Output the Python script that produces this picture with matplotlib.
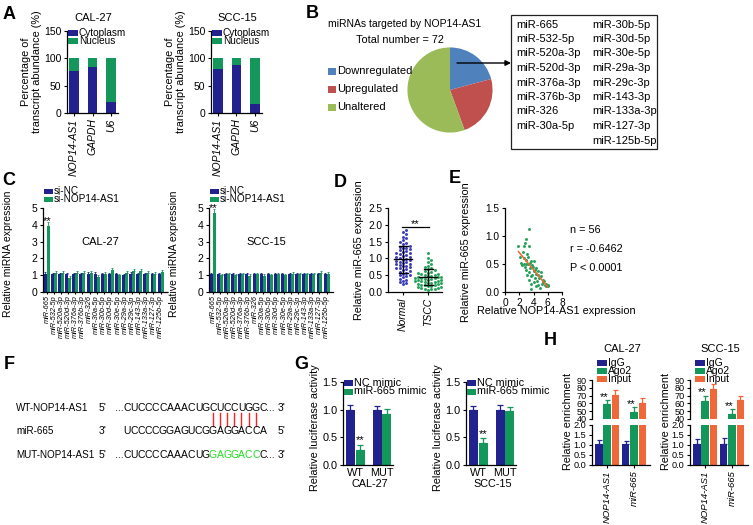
import numpy as np
import matplotlib
matplotlib.use('Agg')
import matplotlib.pyplot as plt
from matplotlib.patches import Rectangle

plt.rcParams['font.family'] = ['Liberation Sans', 'DejaVu Sans']
plt.rcParams['axes.linewidth'] = 0.9
plt.rcParams['xtick.major.width'] = 0.8
plt.rcParams['ytick.major.width'] = 0.8
plt.rcParams['xtick.major.size'] = 2.5
plt.rcParams['ytick.major.size'] = 2.5
plt.rcParams['xtick.major.pad'] = 1.5
plt.rcParams['ytick.major.pad'] = 1.5

NAVY = '#22228f'
GREEN = '#13975a'
ORANGE = '#f0683a'

# ---- data ----
# A: subcellular fractionation
frac_genes = ['NOP14-AS1', 'GAPDH', 'U6']
cyto_cal = [76, 85, 21]
cyto_scc = [80, 88, 17]

# B: pie + list of downregulated miRNAs
pie_labels = ['Downregulated', 'Upregulated', 'Unaltered']
pie_counts = [15, 17, 40]
pie_colors = ['#4f81bd', '#c0504d', '#9bbb59']
down_col1 = ['miR-665', 'miR-532-5p', 'miR-520a-3p', 'miR-520d-3p',
             'miR-376a-3p', 'miR-376b-3p', 'miR-326', 'miR-30a-5p']
down_col2 = ['miR-30b-5p', 'miR-30d-5p', 'miR-30e-5p', 'miR-29a-3p',
             'miR-29c-3p', 'miR-143-3p', 'miR-133a-3p', 'miR-127-3p', 'miR-125b-5p']

# C: qPCR after knockdown
mirnas = down_col1 + down_col2
c_cal_nc = [1.1, 1.05, 1.05, 1.05, 1.05, 1.05, 1.1, 1.1, 1.05, 1.05, 1.05, 1.0, 1.1, 1.05, 1.05, 1.05, 1.05]
c_cal_si = [3.9, 1.15, 1.15, 0.85, 1.15, 1.15, 1.15, 0.9, 1.1, 1.3, 1.0, 1.15, 1.25, 1.25, 1.15, 1.1, 1.2]
c_scc_nc = [1.05, 1.05, 1.05, 1.05, 1.05, 1.05, 1.05, 1.05, 1.05, 1.05, 1.05, 1.05, 1.05, 1.05, 1.05, 1.05, 1.05]
c_scc_si = [4.7, 1.0, 1.05, 1.0, 1.05, 0.95, 1.05, 0.95, 1.0, 1.05, 1.0, 1.1, 1.05, 1.05, 1.05, 1.15, 1.1]
c_err_nc = 0.1
c_err_si = [0.25, 0.1, 0.1, 0.1, 0.1, 0.1, 0.1, 0.1, 0.1, 0.1, 0.1, 0.1, 0.1, 0.1, 0.1, 0.1, 0.1]
c_err_si_scc = [0.25, 0.1, 0.1, 0.1, 0.1, 0.1, 0.1, 0.1, 0.1, 0.1, 0.1, 0.1, 0.1, 0.1, 0.1, 0.1, 0.1]

# D: tissue expression
d_groups = ['Normal', 'TSCC']
d_normal = [1.85, 1.78, 1.72, 1.65, 1.60, 1.55, 1.50, 1.46,
            1.42, 1.38, 1.35, 1.32, 1.30, 1.27, 1.24, 1.22,
            1.20, 1.17, 1.15, 1.12, 1.10, 1.08, 1.05, 1.03,
            1.00, 0.98, 0.96, 0.94, 0.92, 0.90, 0.88, 0.86,
            0.84, 0.82, 0.80, 0.78, 0.76, 0.74, 0.72, 0.70,
            0.68, 0.66, 0.63, 0.60, 0.58, 0.55, 0.52, 0.50,
            0.47, 0.44, 0.40, 0.37, 0.34, 0.30, 0.27, 0.24]
d_tscc = [1.15, 1.02, 0.95, 0.88, 0.82, 0.78, 0.74, 0.71,
          0.68, 0.65, 0.62, 0.60, 0.58, 0.56, 0.54, 0.53,
          0.51, 0.50, 0.49, 0.48, 0.47, 0.46, 0.45, 0.44,
          0.43, 0.42, 0.41, 0.40, 0.39, 0.38, 0.37, 0.36,
          0.35, 0.34, 0.33, 0.32, 0.31, 0.30, 0.28, 0.27,
          0.26, 0.25, 0.24, 0.22, 0.21, 0.20, 0.18, 0.17,
          0.15, 0.14, 0.12, 0.11, 0.10, 0.09, 0.08, 0.06]
d_mean = [0.98, 0.45]
d_sd = [0.40, 0.24]

# E: correlation
e_x = [3.3, 3.0, 1.8, 2.6, 3.4, 3.1, 2.1, 2.5,
       2.9, 2.2, 2.7, 3.2, 3.6, 2.4, 2.8, 3.5,
       3.0, 2.6, 3.3, 3.8, 4.0, 3.1, 2.9, 3.6,
       4.2, 3.4, 4.4, 3.7, 4.6, 4.1, 3.9, 4.8,
       4.3, 5.0, 4.5, 5.2, 3.2, 3.5, 4.7, 5.4,
       4.0, 5.1, 5.6, 4.9, 3.8, 5.3, 5.8, 4.4,
       6.0, 3.6, 4.2, 5.5, 2.8, 4.6, 5.7, 6.1]
e_y = [1.12, 0.95, 0.82, 0.82, 0.83, 0.68, 0.63, 0.72,
       0.58, 0.52, 0.60, 0.50, 0.55, 0.48, 0.45, 0.42,
       0.40, 0.50, 0.35, 0.48, 0.38, 0.30, 0.50, 0.28,
       0.40, 0.22, 0.33, 0.15, 0.30, 0.18, 0.45, 0.25,
       0.10, 0.35, 0.20, 0.15, 0.62, 0.52, 0.12, 0.18,
       0.55, 0.28, 0.12, 0.08, 0.30, 0.22, 0.10, 0.42,
       0.12, 0.05, 0.25, 0.20, 0.88, 0.38, 0.15, 0.10]
e_fit_x = [1.9, 6.0]
e_fit_y = [0.72, 0.09]
e_stats = ['n = 56', 'r = -0.6462', 'P < 0.0001']

# F: binding sites
wt_seq = 'CUCCCCAAACUGCUCCUGGC'
mir_seq = 'UCCCCGGAGUCGGAGGACCA'
mut_head, mut_site, mut_tail = 'CUCCCCAAACUG', 'GAGGACC', 'C'
pair_idx = [12, 13, 14, 15, 16, 17, 18]

# G: luciferase
g_groups = ['WT', 'MUT']
g_cal_nc, g_cal_nc_err = [1.0, 1.0], [0.08, 0.07]
g_cal_mi, g_cal_mi_err = [0.28, 0.93], [0.09, 0.08]
g_scc_nc, g_scc_nc_err = [1.0, 1.0], [0.07, 0.09]
g_scc_mi, g_scc_mi_err = [0.40, 0.97], [0.08, 0.07]

# H: RIP
h_genes = ['NOP14-AS1', 'miR-665']
h_cal = {'IgG': ([1.03, 1.03], [0.22, 0.17]),
         'Ago2': ([59, 49], [5.5, 6]),
         'Input': ([71, 61], [6, 5.5])}
h_scc = {'IgG': ([1.03, 1.03], [0.25, 0.3]),
         'Ago2': ([63.5, 47], [6.5, 5.5]),
         'Input': ([78.5, 64.5], [6.5, 5])}

# ---- figure ----
W, H = 753, 525
fig = plt.figure(figsize=(W / 100, H / 100), dpi=100)


def px_axes(x0, y0, x1, y1):
    return fig.add_axes([x0 / W, 1 - y1 / H, (x1 - x0) / W, (y1 - y0) / H])


ov = fig.add_axes([0, 0, 1, 1], zorder=10)
ov.set_xlim(0, W)
ov.set_ylim(H, 0)
ov.axis('off')
ov.patch.set_alpha(0)


def style(ax, fs=7):
    for s in ('top', 'right'):
        ax.spines[s].set_visible(False)
    ax.tick_params(labelsize=fs)


def legend_px(x, y, labels, colors, dy, fs=6.5, sw=9, sh=6):
    for i, (lab, col) in enumerate(zip(labels, colors)):
        yy = y + i * dy
        ov.add_patch(Rectangle((x, yy - sh / 2), sw, sh, color=col, lw=0))
        ov.text(x + sw + 1, yy, lab, fontsize=fs, va='center', ha='left')


def ylab(ax, text, x, y, fs=7):
    ax.set_ylabel(text, fontsize=fs, linespacing=1.1)
    ax.yaxis.set_label_coords(x, y, transform=ov.transData)


for letter, (lx, ly) in zip('ABCDEFGH', [(3, 6), (306, 5), (2, 172), (334, 174),
                                         (449, 170), (4, 356), (294, 356), (544, 332)]):
    ov.text(lx, ly, letter, fontsize=13, fontweight='bold', va='top', ha='left')

# ---- A ----
for (x0, title, cyto) in [(67, 'CAL-27', cyto_cal), (211, 'SCC-15', cyto_scc)]:
    ax = px_axes(x0, 31, x0 + 51, 113)
    style(ax, 7.5)
    xs = np.arange(len(frac_genes))
    nuc = [100 - c for c in cyto]
    ax.bar(xs, cyto, width=0.54, color=NAVY)
    ax.bar(xs, nuc, bottom=cyto, width=0.54, color=GREEN)
    ax.set_xlim(-0.38, 2.38)
    ax.set_ylim(0, 150)
    ax.set_yticks([0, 50, 100, 150])
    ax.set_xticks(xs)
    ax.set_xticklabels(frac_genes, rotation=90, style='italic', fontsize=7.5)
    ylab(ax, 'Percentage of\ntranscript abundance (%)', x0 - 25, 72, fs=7.8)
    ov.text(x0 + 26, 18, title, fontsize=8, ha='center', va='center')
    legend_px(x0 + 1, 33, ['Cytoplasm', 'Nucleus'], [NAVY, GREEN], 8, fs=7.2, sw=10, sh=6)

# ---- B ----
ov.text(405, 24, 'miRNAs targeted by NOP14-AS1', fontsize=7.5, ha='center', va='center')
ov.text(400, 40, 'Total number = 72', fontsize=7.8, ha='center', va='center')
axp = px_axes(407, 47, 493, 133)
axp.pie(pie_counts, colors=pie_colors, startangle=90, counterclock=False,
        wedgeprops=dict(linewidth=0))
axp.set_xlim(-1.01, 1.01)
axp.set_ylim(-1.01, 1.01)
legend_px(328, 71, pie_labels, pie_colors, 18, fs=8, sw=8, sh=7)
ov.annotate('', xy=(511, 63), xytext=(457, 63),
            arrowprops=dict(arrowstyle='-|>', color='black', lw=1, mutation_scale=8,
                            shrinkA=0, shrinkB=0))
ov.add_patch(Rectangle((511, 15), 146, 134, fill=False, lw=0.9, ec='#222222'))
for i, m in enumerate(down_col1):
    ov.text(516, 24.5 + i * 14.5, m, fontsize=8, va='center', ha='left')
for i, m in enumerate(down_col2):
    ov.text(592, 24.5 + i * 14.5, m, fontsize=8, va='center', ha='left')

# ---- C ----
for (x0, title, nc, si, err_si, star_y) in [(43, 'CAL-27', c_cal_nc, c_cal_si, c_err_si, 4.25),
                                           (209, 'SCC-15', c_scc_nc, c_scc_si, c_err_si_scc, 5.0)]:
    ax = px_axes(x0, 208, x0 + 124, 292)
    style(ax, 7.5)
    xs = np.arange(len(mirnas))
    w = 0.42
    ax.bar(xs - w / 2, nc, width=w, color=NAVY,
           yerr=[np.zeros(len(nc)), np.full(len(nc), c_err_nc)],
           error_kw=dict(ecolor=NAVY, elinewidth=0.6, capsize=0.8, capthick=0.6))
    ax.bar(xs + w / 2, si, width=w, color=GREEN,
           yerr=[np.zeros(len(si)), err_si],
           error_kw=dict(ecolor=GREEN, elinewidth=0.6, capsize=0.8, capthick=0.6))
    ax.set_xlim(-0.55, 16.9)
    ax.set_ylim(0, 5)
    ax.set_yticks([0, 1, 2, 3, 4, 5])
    ax.set_xticks(xs)
    ax.set_xticklabels(mirnas, rotation=90, style='italic', fontsize=5.3)
    ax.tick_params(axis='x', length=1.5, pad=1)
    ax.text(0.1, star_y, '**', fontsize=8, ha='center', va='center')
    ylab(ax, 'Relative miRNA expression', x0 - 30, 254, fs=7.5)
    ov.text(x0 + 57, 242, title, fontsize=8, ha='center', va='center')
    legend_px(x0 + 1, 191, ['si-NC', 'si-NOP14-AS1'], [NAVY, GREEN], 8.2, fs=7.2, sw=9, sh=5)

# ---- D ----


def swarm(vals, px_x, px_y, d):
    vals = np.asarray(vals)
    offs = np.zeros(len(vals))
    placed = []
    for i in np.argsort(vals):
        y = vals[i] * px_y
        k = 0
        while True:
            found = False
            for sgn in ((0,) if k == 0 else (1, -1)):
                x = sgn * k * d * 0.5
                if all((x - qx) ** 2 + (y - qy) ** 2 >= d * d for qx, qy in placed):
                    found = True
                    break
            if found:
                break
            k += 1
        placed.append((x, y))
        offs[i] = x / px_x
    return offs


axd = px_axes(388, 208, 442, 292)
style(axd, 7.3)
for gi, (vals, col) in enumerate([(d_normal, '#3b3bb8'), (d_tscc, '#23a35a')]):
    offs = swarm(vals, 25, 33.6, 3.3)
    axd.scatter(gi + offs, vals, s=4.5, color=col, lw=0, zorder=2)
    m, sd = d_mean[gi], d_sd[gi]
    axd.plot([gi - 0.36, gi + 0.36], [m, m], color='black', lw=1, zorder=3)
    axd.plot([gi, gi], [m - sd, m + sd], color='black', lw=1, zorder=3)
    axd.plot([gi - 0.18, gi + 0.18], [m - sd, m - sd], color='black', lw=1, zorder=3)
    axd.plot([gi - 0.18, gi + 0.18], [m + sd, m + sd], color='black', lw=1, zorder=3)
axd.plot([-0.05, 1.05], [1.93, 1.93], color='black', lw=0.9)
axd.text(0.5, 2.03, '**', fontsize=8, ha='center', va='center')
axd.set_xlim(-0.6, 1.56)
axd.set_ylim(0, 2.5)
axd.set_yticks([0, 0.5, 1.0, 1.5, 2.0, 2.5])
axd.set_yticklabels(['0.0', '0.5', '1.0', '1.5', '2.0', '2.5'])
axd.set_xticks([0, 1])
axd.set_xticklabels(d_groups, rotation=90, style='italic', fontsize=7.5)
ylab(axd, 'Relative miR-665 expression', 364, 250, fs=7.8)

# ---- E ----
axe = px_axes(505, 208, 562, 292)
style(axe, 7.3)
axe.scatter(e_x, e_y, s=4.5, color='#23a35a', lw=0, zorder=2)
axe.plot(e_fit_x, e_fit_y, color='#f26531', lw=1.1, zorder=3)
axe.set_xlim(0, 8)
axe.set_ylim(0, 1.5)
axe.set_xticks([0, 2, 4, 6, 8])
axe.set_yticks([0, 0.5, 1.0, 1.5])
axe.set_yticklabels(['0.0', '0.5', '1.0', '1.5'])
ylab(axe, 'Relative miR-665 expression', 471, 252, fs=7.8)
axe.set_xlabel('Relative NOP14-AS1 expression', fontsize=7.8)
axe.xaxis.set_label_coords(556, 306, transform=ov.transData)
for i, s in enumerate(e_stats):
    ov.text(570, 230 + i * 19, s, fontsize=7.8, va='center', ha='left')

# ---- F ----
fs_f = 7.5
pitch = 7.15
x_seq = 123.5
rows = [408, 431, 455]
for y, lab in zip(rows, ['WT-NOP14-AS1', 'miR-665', 'MUT-NOP14-AS1']):
    ov.text(16, y, lab, fontsize=7.1, va='center', ha='left')
for y, end5, end3 in zip(rows, ["5'", "3'", "5'"], ["3'", "5'", "3'"]):
    ov.text(99, y, end5, fontsize=fs_f, va='center', ha='left')
    ov.text(278, y, end3, fontsize=fs_f, va='center', ha='left')


def seq_text(seq, start_i, y, color='black'):
    for i, ch in enumerate(seq):
        ov.text(x_seq + (start_i + i + 0.5) * pitch, y, ch, fontsize=fs_f,
                ha='center', va='center', color=color)


ov.text(x_seq + 0.5, rows[0], '...', fontsize=fs_f, ha='right', va='center')
seq_text(wt_seq, 0, rows[0])
ov.text(x_seq + len(wt_seq) * pitch, rows[0], '...', fontsize=fs_f, ha='left', va='center')
seq_text(mir_seq, 0, rows[1])
ov.text(x_seq + 0.5, rows[2], '...', fontsize=fs_f, ha='right', va='center')
seq_text(mut_head, 0, rows[2])
seq_text(mut_site, len(mut_head), rows[2], color='#22dd22')
seq_text(mut_tail, len(mut_head) + len(mut_site), rows[2])
ov.text(x_seq + len(wt_seq) * pitch, rows[2], '...', fontsize=fs_f, ha='left', va='center')
for i in pair_idx:
    xx = x_seq + (i + 0.5) * pitch
    ov.plot([xx, xx], [412.5, 425.5], color='#ff2222', lw=1)

# ---- G ----
for (x0, title, nc, nce, mi, mie) in [(343, 'CAL-27', g_cal_nc, g_cal_nc_err, g_cal_mi, g_cal_mi_err),
                                     (466, 'SCC-15', g_scc_nc, g_scc_nc_err, g_scc_mi, g_scc_mi_err)]:
    ax = px_axes(x0, 382, x0 + 50, 465)
    style(ax, 7.8)
    xs = np.arange(len(g_groups))
    w = 0.33
    ek = dict(elinewidth=0.9, capsize=2, capthick=0.9)
    ax.bar(xs - 0.18, nc, width=w, color=NAVY, yerr=[[0, 0], nce], error_kw=dict(ecolor=NAVY, **ek))
    ax.bar(xs + 0.18, mi, width=w, color=GREEN, yerr=[[0, 0], mie], error_kw=dict(ecolor=GREEN, **ek))
    ax.text(0.18, mi[0] + mie[0] + 0.08, '**', fontsize=8, ha='center', va='center')
    ax.set_xlim(-0.46, 1.41)
    ax.set_ylim(0, 1.5)
    ax.set_yticks([0, 0.5, 1.0, 1.5])
    ax.set_yticklabels(['0.0', '0.5', '1.0', '1.5'])
    ax.set_xticks(xs)
    ax.set_xticklabels(g_groups, fontsize=7.8)
    ax.tick_params(axis='x', length=0, pad=2)
    ylab(ax, 'Relative luciferase activity', x0 - 23, 428, fs=7.8)
    ax.set_xlabel(title, fontsize=7.8)
    ax.xaxis.set_label_coords(x0 + 27, 479, transform=ov.transData)
    legend_px(x0 + 1, 383, ['NC mimic', 'miR-665 mimic'], [NAVY, GREEN], 8.5, fs=7.8, sw=9, sh=6)

# ---- H ----
h_colors = {'IgG': NAVY, 'Ago2': GREEN, 'Input': ORANGE}
for (x0, title, dat) in [(592, 'CAL-27', h_cal), (690, 'SCC-15', h_scc)]:
    axt = px_axes(x0, 380, x0 + 58, 419)
    axb = px_axes(x0, 425, x0 + 58, 465)
    xs = np.arange(len(h_genes))
    w = 0.28
    for ax in (axt, axb):
        style(ax, 6.6)
        for j, key in enumerate(['IgG', 'Ago2', 'Input']):
            vals, errs = dat[key]
            ax.bar(xs + (j - 1) * 0.31, vals, width=w, color=h_colors[key],
                   yerr=[[0, 0], errs],
                   error_kw=dict(ecolor=h_colors[key], elinewidth=0.9, capsize=1.8, capthick=0.9))
        ax.set_xlim(-0.56, 1.59)
    axt.set_ylim(40, 90)
    axt.set_yticks([40, 50, 60, 70, 80, 90])
    axt.spines['bottom'].set_visible(False)
    axt.set_xticks([])
    axt.tick_params(axis='y', pad=1)
    axb.set_ylim(0, 2.0)
    axb.set_yticks([0, 0.5, 1.0, 1.5, 2.0])
    axb.set_yticklabels(['0.0', '0.5', '1.0', '1.5', '2.0'])
    axb.set_xticks(xs)
    axb.set_xticklabels(h_genes, rotation=90, style='italic', fontsize=6.8)
    ago2_v, ago2_e = dat['Ago2']
    for k in range(len(h_genes)):
        axt.text(xs[k] - 0.12, ago2_v[k] + ago2_e[k] + 4, '**', fontsize=8, ha='center', va='center')
    ylab(axb, 'Relative enrichment', x0 - 19, 421, fs=7.8)
    ov.text(x0 + 30, 349, title, fontsize=8, ha='center', va='center')
    legend_px(x0 + 5, 363, ['IgG', 'Ago2', 'Input'], [NAVY, GREEN, ORANGE], 8, fs=7.5, sw=10, sh=6)

fig.savefig('out.png', dpi=100)
